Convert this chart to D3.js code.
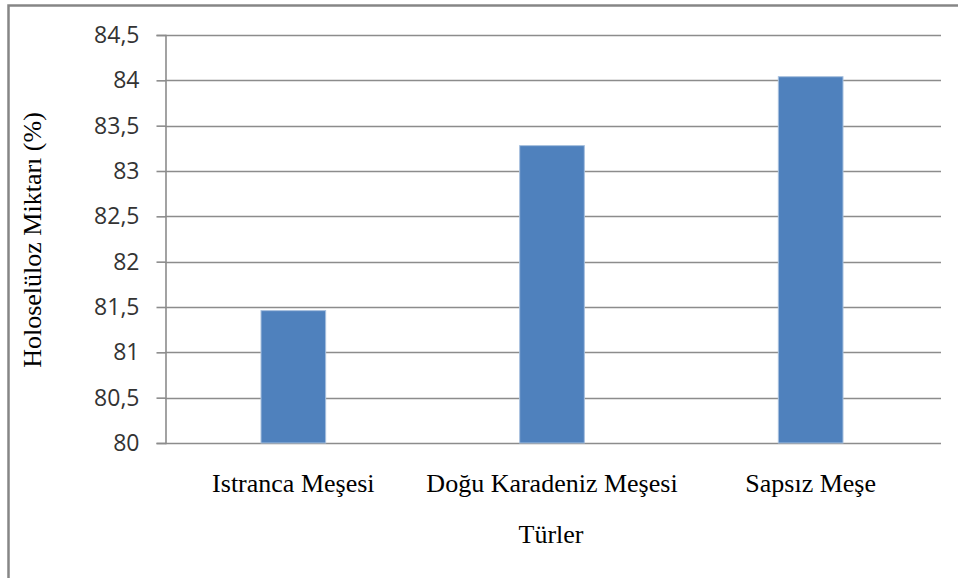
<!DOCTYPE html>
<html>
<head>
<meta charset="utf-8">
<script src="https://cdn.jsdelivr.net/npm/d3@7"></script>
<style>
	body { margin: 0; background: #fff; }
	svg { display: block; }
</style>
</head>
<body>
<div id="chart"></div>
<script>
//Data
var categories = ["Istranca Meşesi", "Doğu Karadeniz Meşesi", "Sapsız Meşe"];
var values = [81.46, 83.28, 84.04];
var yTicks = [80, 80.5, 81, 81.5, 82, 82.5, 83, 83.5, 84, 84.5];
var yTitle = "Holoselüloz Miktarı (%)";
var xTitle = "Türler";

var width = 958,
	height = 578;

var svg = d3.select("#chart").append("svg")
	.attr("width", width)
	.attr("height", height);

//Outer chart frame
svg.append("rect")
	.attr("x", 8.5)
	.attr("y", 5.5)
	.attr("width", width + 10)
	.attr("height", height + 10)
	.style("fill", "#fff")
	.style("stroke", "#868686")
	.style("stroke-width", 2.5);

///////////////////////////////////////////////////////////////////////////
//////////////////////////////// Scales ///////////////////////////////////
///////////////////////////////////////////////////////////////////////////

var plot = {left: 165, right: 941, top: 35, bottom: 443};

var x = d3.scaleBand()
	.domain(categories)
	.range([plot.left, plot.right])
	.padding(0);

var y = d3.scaleLinear()
	.domain([80, 84.5])
	.range([plot.bottom, plot.top]);

var fmt = function(d) { return String(d).replace(".", ","); };

//Gridlines
svg.append("g")
	.selectAll("line")
	.data(yTicks)
	.enter().append("line")
	.attr("x1", plot.left)
	.attr("x2", plot.right)
	.attr("y1", function(d) { return Math.round(y(d)) + 0.5; })
	.attr("y2", function(d) { return Math.round(y(d)) + 0.5; })
	.style("stroke", "#8c8c8c")
	.style("stroke-width", 1.6);

//Y axis
var yAxis = svg.append("g")
	.attr("transform", "translate(" + (plot.left + 0.5) + ",0)")
	.call(d3.axisLeft(y).tickValues(yTicks).tickFormat(fmt).tickSize(9).tickPadding(17));

yAxis.select(".domain").style("stroke", "#8c8c8c").style("stroke-width", 1.6);
yAxis.selectAll(".tick line")
	.style("stroke", "#8c8c8c").style("stroke-width", 1.6);
yAxis.selectAll(".tick text")
	.style("font-family", "'Open Sans', sans-serif")
	.style("font-size", "23px")
	.style("fill", "#333");

///////////////////////////////////////////////////////////////////////////
///////////////////////////////// Bars ////////////////////////////////////
///////////////////////////////////////////////////////////////////////////

var barW = x.bandwidth() * 0.25;

svg.append("g")
	.selectAll("rect")
	.data(values)
	.enter().append("rect")
	.attr("x", function(d, i) { return x(categories[i]) + x.bandwidth()/2 - barW/2 - 1; })
	.attr("y", function(d) { return y(d); })
	.attr("width", barW)
	.attr("height", function(d) { return y(80) - y(d); })
	.style("fill", "#4f81bd")
	.style("stroke", "#a7c0de")
	.style("stroke-width", 1);

///////////////////////////////////////////////////////////////////////////
////////////////////////////////// Text ///////////////////////////////////
///////////////////////////////////////////////////////////////////////////

var serif = "'Liberation Serif', 'Times New Roman', serif";

svg.append("g")
	.selectAll("text")
	.data(categories)
	.enter().append("text")
	.attr("x", function(d) { return x(d) + x.bandwidth()/2 - 1; })
	.attr("y", 492)
	.attr("text-anchor", "middle")
	.style("font-family", serif)
	.style("font-size", "26px")
	.style("fill", "#000")
	.text(function(d) { return d; });

svg.append("text")
	.attr("x", (plot.left + plot.right)/2 - 2)
	.attr("y", 543)
	.attr("text-anchor", "middle")
	.style("font-family", serif)
	.style("font-size", "26px")
	.style("fill", "#000")
	.text(xTitle);

svg.append("text")
	.attr("transform", "translate(41," + ((plot.top + plot.bottom)/2 + 1) + ") rotate(-90)")
	.attr("text-anchor", "middle")
	.style("font-family", serif)
	.style("font-size", "26px")
	.style("fill", "#000")
	.text(yTitle);
</script>
</body>
</html>
